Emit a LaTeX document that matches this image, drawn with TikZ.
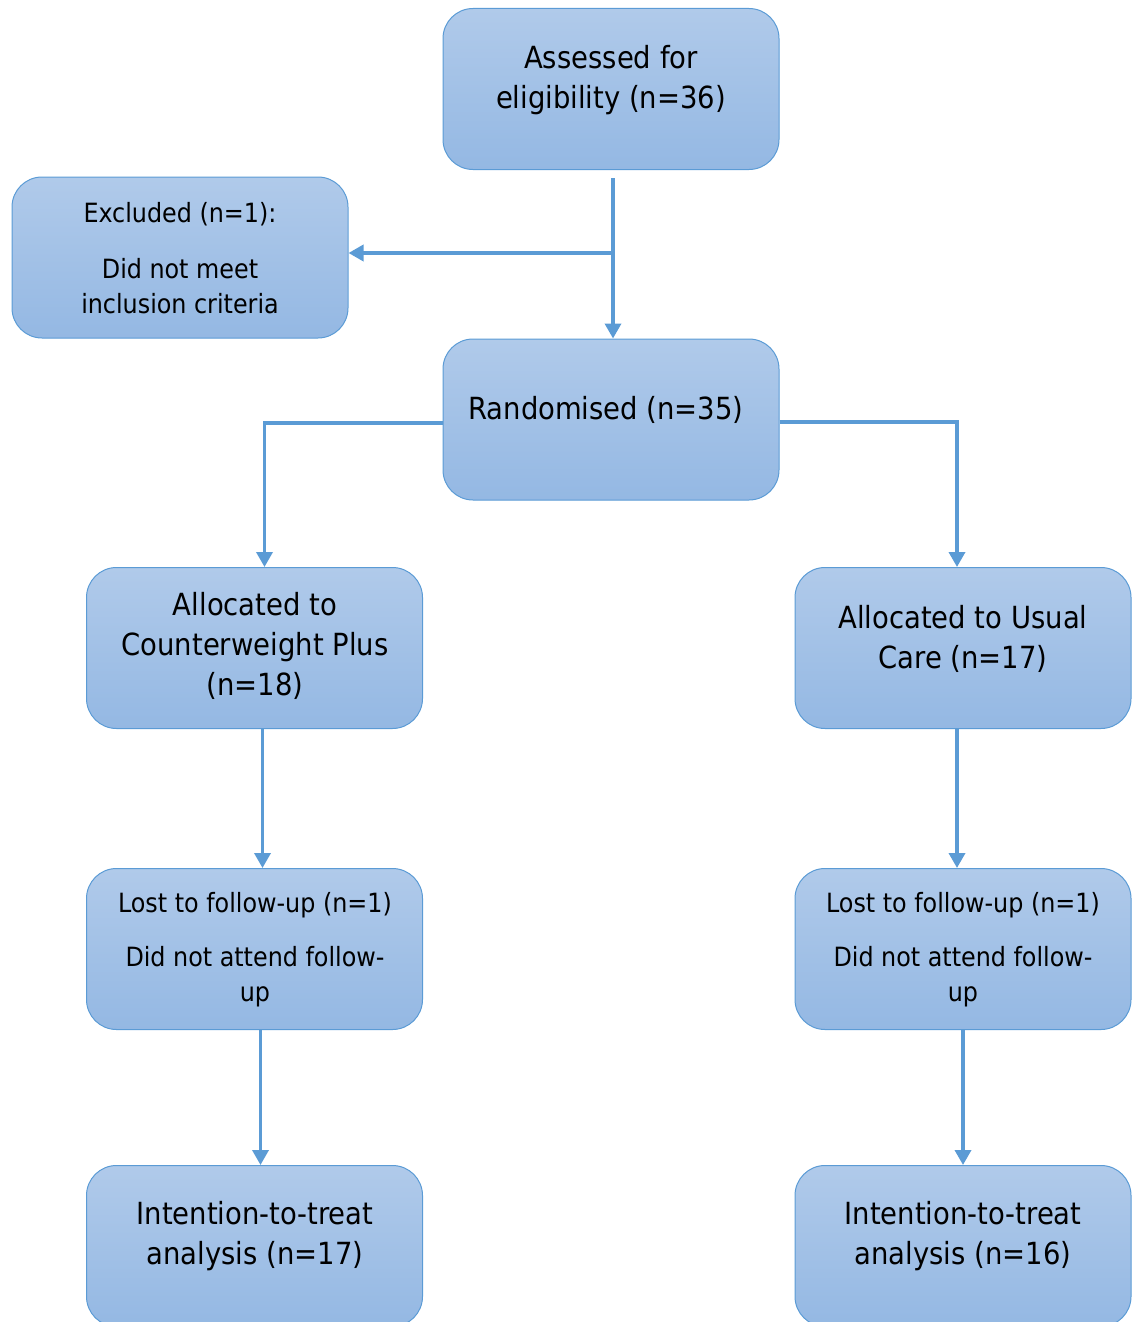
\documentclass[tikz,border=0pt]{standalone}
\usepackage{fontspec}
\setmainfont{DejaVu Sans Condensed}
\usetikzlibrary{arrows.meta, positioning}
\definecolor{boxedge}{RGB}{91,155,213}
\definecolor{boxtop}{RGB}{176,202,234}
\definecolor{boxbot}{RGB}{148,184,227}
\tikzset{%
>={Triangle[width=16pt,length=15pt]},
  % Specifications for style of nodes:
            box/.style = {rectangle, rounded corners=30pt, draw=boxedge,
                            line width=1pt, top color=boxtop, bottom color=boxbot,
                            minimum width=336pt, minimum height=161pt, inner sep=0pt},
            txt/.style = {align=center, font=\fontsize{30.5}{40}\selectfont, inner sep=0pt},
            smalltxt/.style = {align=center, font=\fontsize{26.5}{35}\selectfont, inner sep=0pt},
            conn/.style = {->, draw=boxedge, line width=3.5pt}
}
\begin{document}
\begin{tikzpicture}[x=1pt, y=-1pt]
                        \useasboundingbox (0,0) rectangle (1133,1322);
                        % boxes
                        \node[box] (assess) at (611,89) {};
                        \node[box] (excl) at (180,257.5) {};
                        \node[box] (rand) at (611,419.5) {};
                        \node[box] (cp) at (254.5,648) {};
                        \node[box] (uc) at (963,648) {};
                        \node[box] (lostl) at (254.5,949) {};
                        \node[box] (lostr) at (963,949) {};
                        \node[box] (ittl) at (254.5,1246) {};
                        \node[box] (ittr) at (963,1246) {};
                        % texts
                        \node[txt] (assess-t) at (611,80) {Assessed for\\eligibility (n=36)};
                        \node[smalltxt] (excl-t) at (180,258) {Excluded (n=1):\\[21pt]Did not meet\\inclusion criteria};
                        \node[txt] (rand-t) at (606,410) {Randomised (n=35)};
                        \node[txt] (cp-t) at (255,646) {Allocated to\\Counterweight Plus\\(n=18)};
                        \node[txt] (uc-t) at (963,638.5) {Allocated to Usual\\Care (n=17)};
                        \node[smalltxt] (lostl-t) at (255,949.5) {Lost to follow-up (n=1)\\[19pt]Did not attend follow-\\up};
                        \node[smalltxt] (lostr-t) at (963,949.5) {Lost to follow-up (n=1)\\[19pt]Did not attend follow-\\up};
                        \node[txt] (ittl-t) at (255,1236) {Intention-to-treat\\analysis (n=17)};
                        \node[txt] (ittr-t) at (963,1236) {Intention-to-treat\\analysis (n=16)};
                        % connectors
                        \coordinate (split) at (613,253);
                        \draw[conn] ([xshift=2pt,yshift=-8pt]assess.south) -- ([xshift=2pt]rand.north);
                        \draw[conn] (split) -- (excl.east |- split);
                        \draw[conn] ([yshift=-3.5pt]rand.west) -| ([xshift=10pt]cp.north);
                        \draw[conn] ([yshift=-2.5pt]rand.east) -| ([xshift=-6pt]uc.north);
                        \draw[conn] ([xshift=8pt]cp.south) -- ([xshift=8pt]lostl.north);
                        \draw[conn] ([xshift=-6pt]uc.south) -- ([xshift=-6pt]lostr.north);
                        \draw[conn] ([xshift=6pt]lostl.south) -- ([xshift=6pt]ittl.north);
                        \draw[conn] (lostr.south) -- (ittr.north);
                    \end{tikzpicture}
\end{document}
